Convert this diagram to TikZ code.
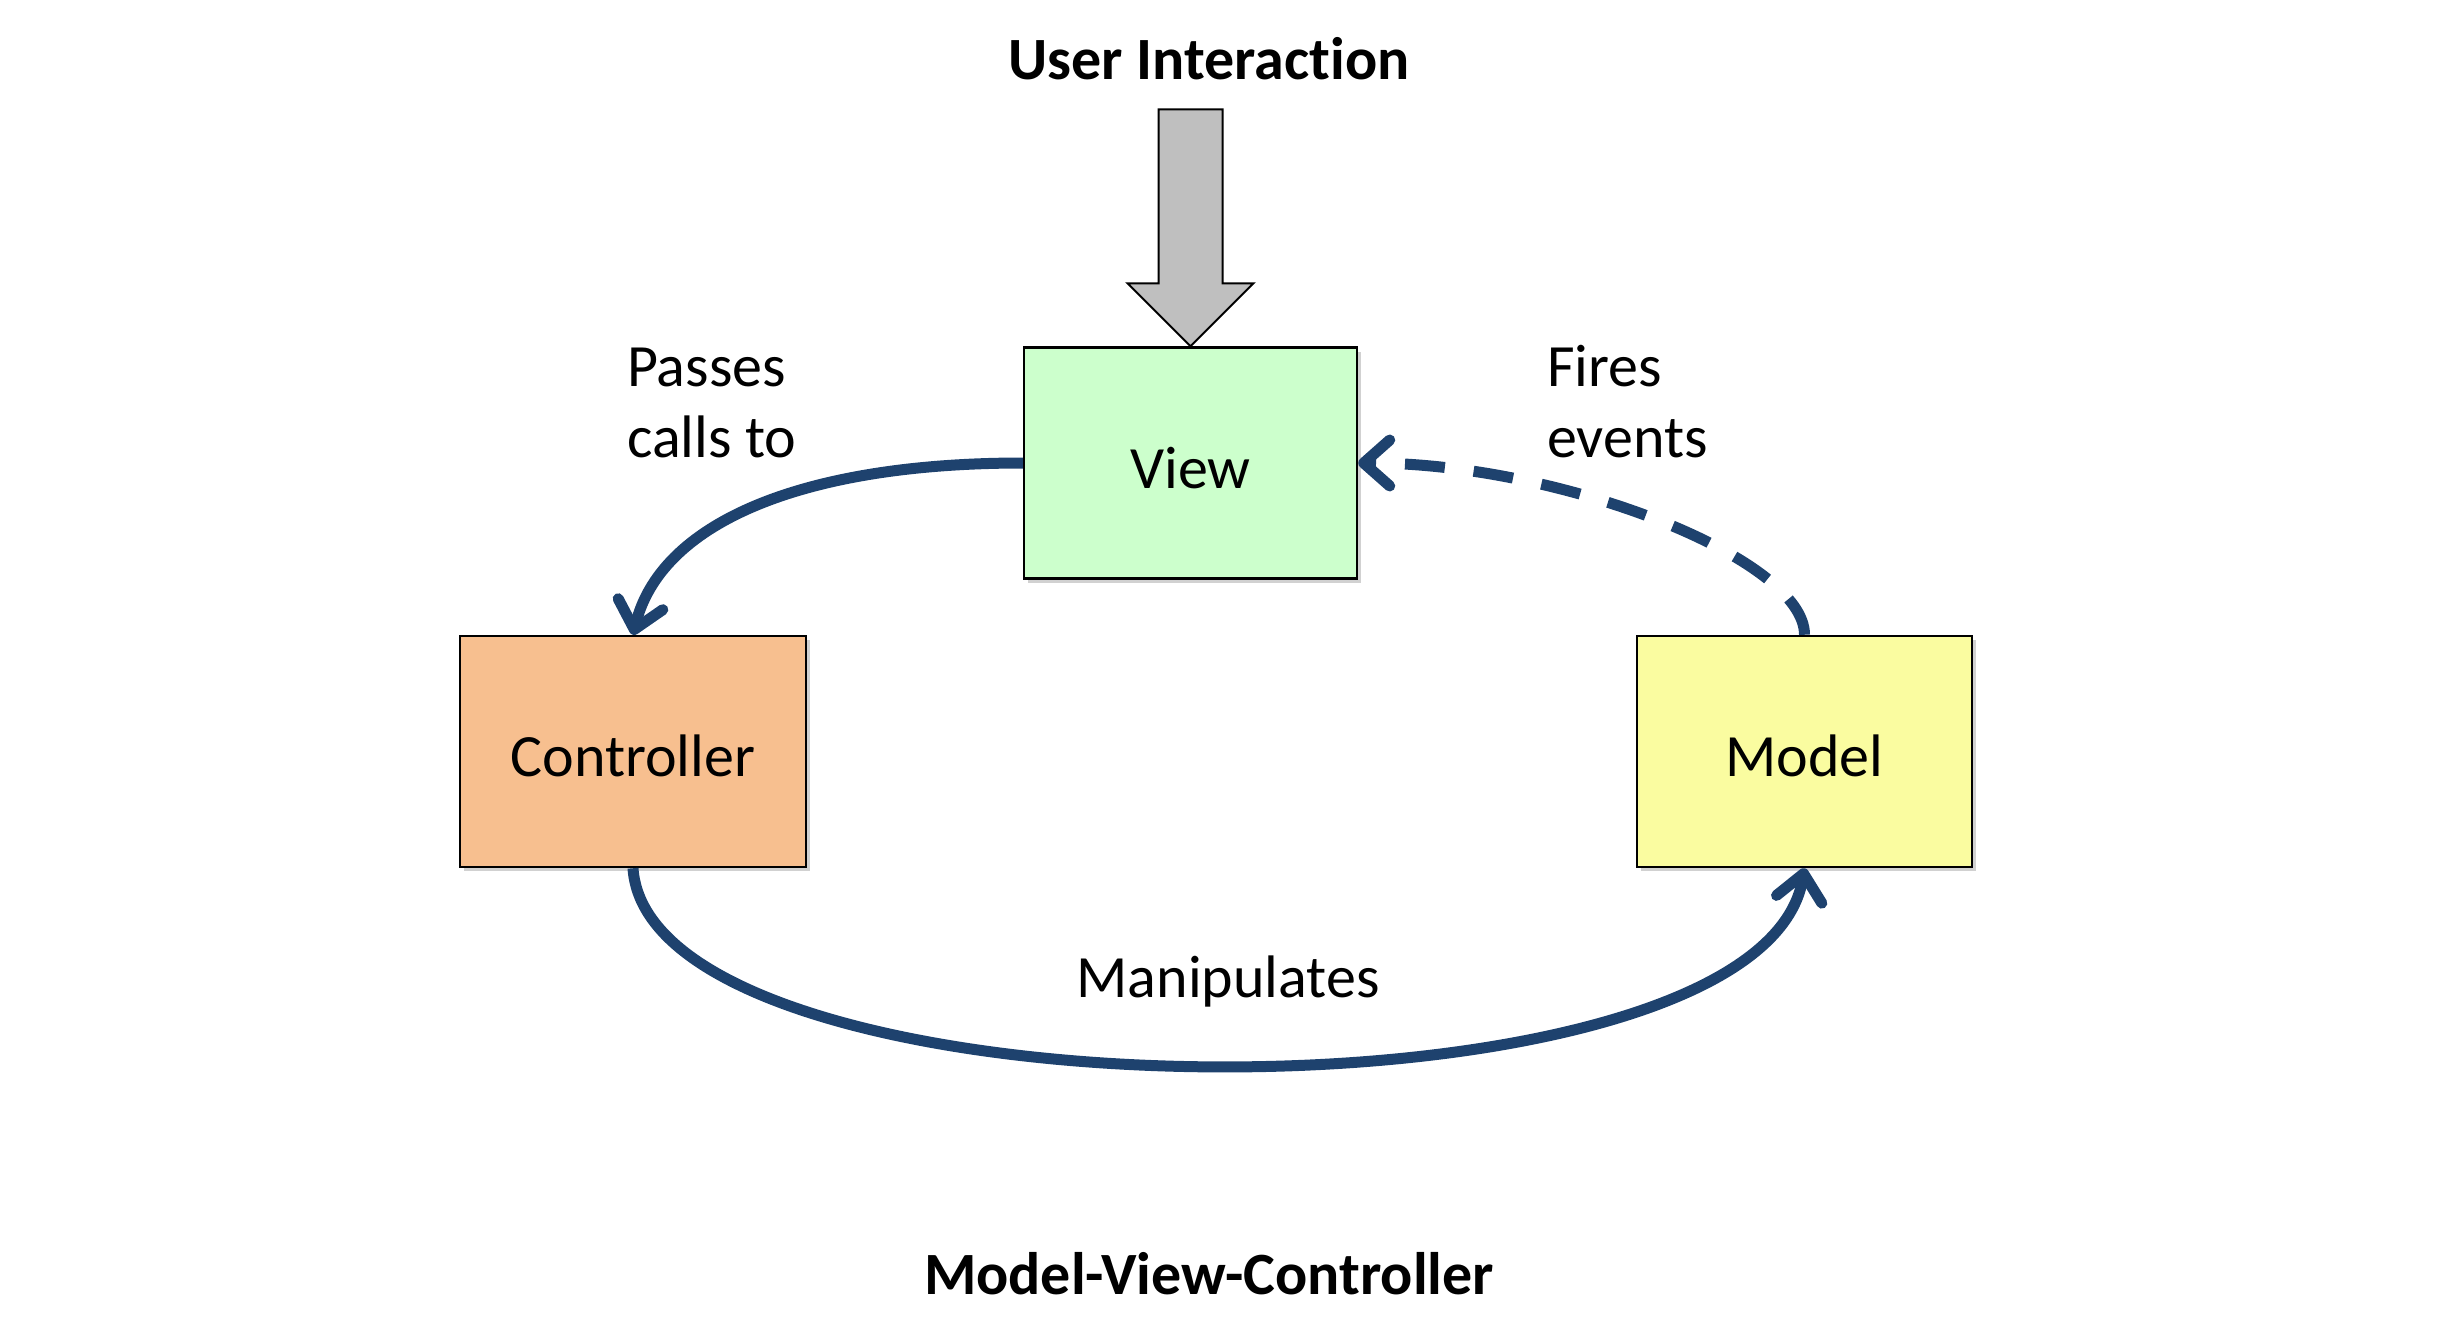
\documentclass[tikz,border=0pt]{standalone}
\usepackage{fontspec}
\setmainfont[Ligatures=NoCommon]{Carlito}
\usetikzlibrary{arrows.meta,shadows,calc}
\definecolor{mvcblue}{RGB}{30,66,110}
\definecolor{viewfill}{RGB}{204,255,204}
\definecolor{ctrlfill}{RGB}{247,191,143}
\definecolor{modelfill}{RGB}{250,252,160}
\definecolor{uifill}{RGB}{191,191,191}
\begin{document}
\begin{tikzpicture}[x=1pt,y=-1pt,
  box/.style={draw=black, line width=2.5pt, minimum width=#1, minimum height=231pt,
    inner sep=0pt, font=\fontsize{60}{72}\selectfont, text height=50pt, text depth=0pt,
    drop shadow={shadow xshift=4pt, shadow yshift=-4pt, fill=black, opacity=0.18}},
  lbl/.style={font=\fontsize{60}{72}\selectfont, inner sep=0pt, anchor=base west},
  title/.style={font=\fontsize{60}{72}\selectfont\bfseries, inner sep=0pt, anchor=base},
  conn/.style={draw=mvcblue, line width=11pt, -{Straight Barb[length=26pt,width=46pt,round]}}
]
\useasboundingbox (0,0) rectangle (2462,1330);

% boxes
\node[box=333pt, fill=viewfill]  (view)  at (1190.5,463)   {View};
\node[box=346pt, fill=ctrlfill]  (ctrl)  at (633,751.5)    {Controller};
\node[box=335pt, fill=modelfill] (model) at (1804.5,751.5) {Model};

% user interaction arrow
\coordinate (tip) at (view.north);
\draw[fill=uifill, draw=black, line width=2pt, line join=miter]
  ($(tip)+(-32,-237)$) -- ($(tip)+(32,-237)$) -- ($(tip)+(32,-63)$) -- ($(tip)+(63,-63)$)
  -- (tip) -- ($(tip)+(-63,-63)$) -- ($(tip)+(-32,-63)$) -- cycle;

% connectors
\draw[conn] (view.west) .. controls +(-225,0) and +(27,-110) .. (ctrl.north);
\draw[conn] (ctrl.south) .. controls +(17,258) and +(-46,268) .. (model.south);
\draw[conn, dash pattern=on 40pt off 29pt] (model.north) .. controls +(0,-76) and +(203,0) .. (view.east);

% labels
\node[title] (ui)  at (1209,80)   {User Interaction};
\node[title] (mvc) at (1209,1294) {Model-View-Controller};
\node[lbl] (pass1) at (627,386)  {Passes};
\node[lbl] (pass2) at (627,457)  {calls to};
\node[lbl] (fire1) at (1547,386) {Fires};
\node[lbl] (fire2) at (1547,457) {events};
\node[font=\fontsize{60}{72}\selectfont, inner sep=0pt, anchor=base] (manip) at (1228,997) {Manipulates};
\end{tikzpicture}
\end{document}
